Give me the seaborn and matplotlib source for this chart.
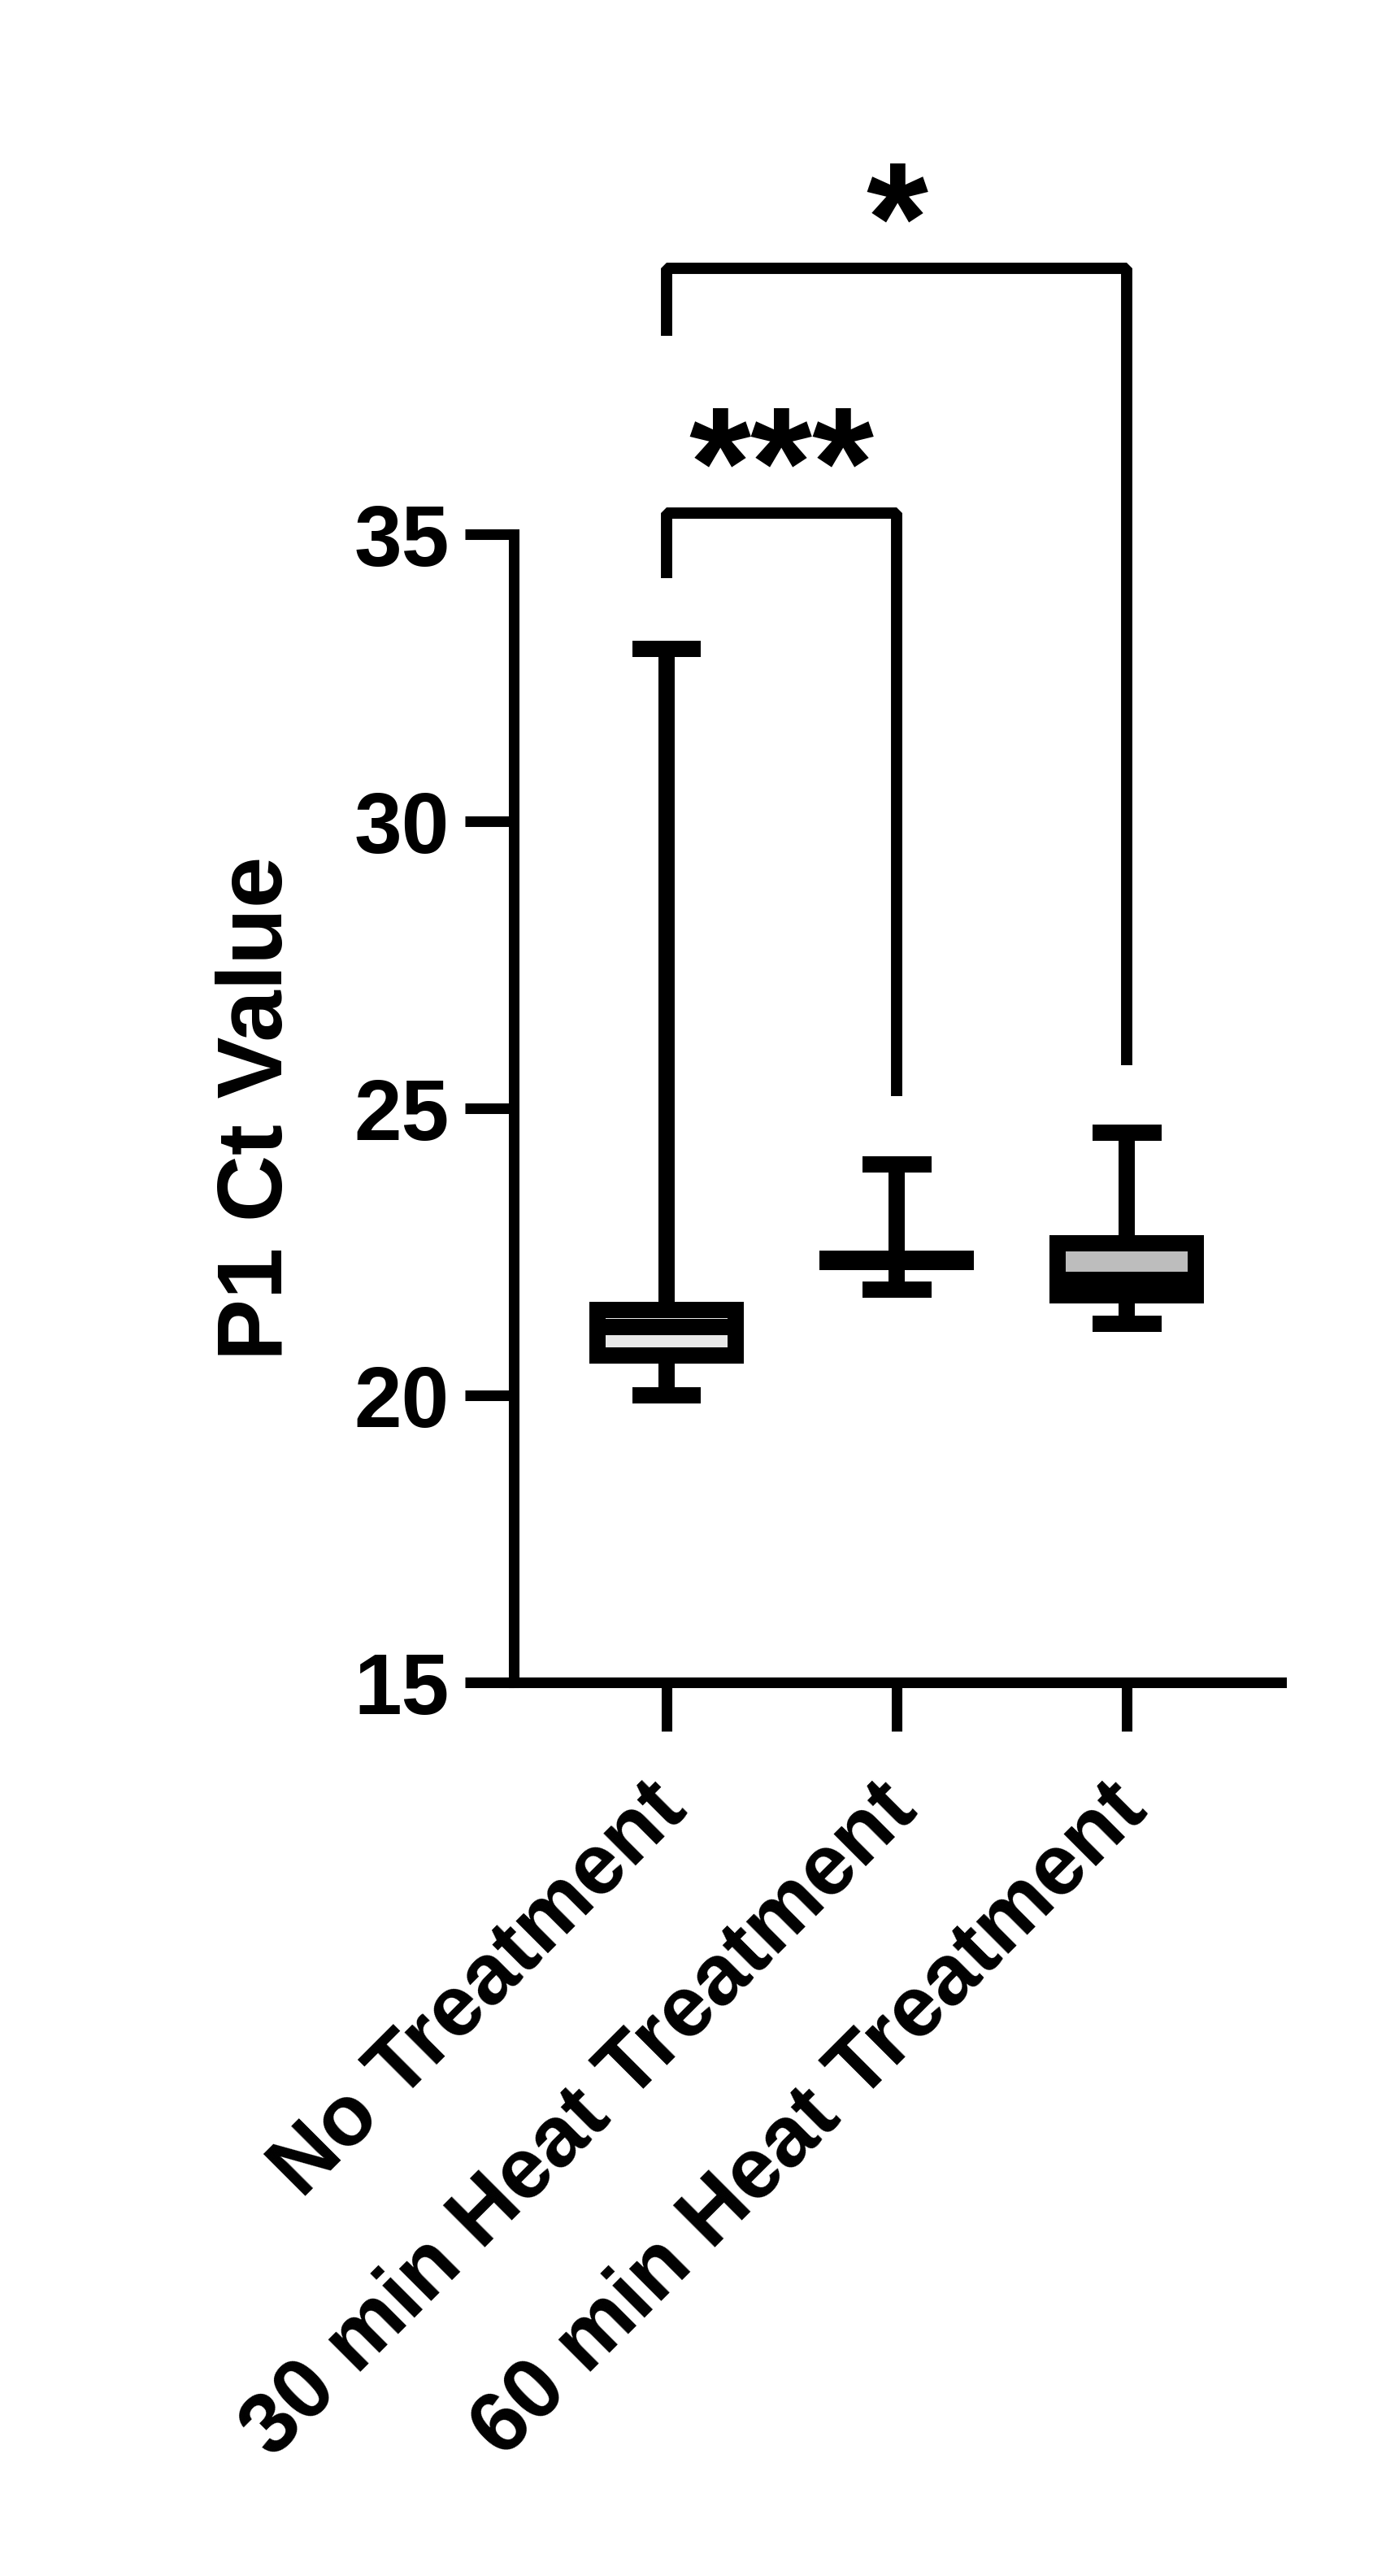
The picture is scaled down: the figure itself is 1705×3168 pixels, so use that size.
import numpy as np
import pandas as pd
import matplotlib
matplotlib.use("Agg")
import matplotlib.pyplot as plt
import matplotlib.transforms as mtransforms
from matplotlib.textpath import TextPath
from matplotlib.font_manager import FontProperties
import seaborn as sns

# ---- data ----
categories = ["No Treatment", "30 min Heat Treatment", "60 min Heat Treatment"]
min_vals = [20.00, 21.84, 21.25]
q1_vals = [20.70, 22.32, 21.74]
median_vals = [21.19, 22.35, 22.01]
q3_vals = [21.49, 22.38, 22.65]
max_vals = [33.00, 24.03, 24.58]
fill_colors = ["#e8e8e8", "#ffffff", "#bdbdbd"]
y_ticks = [15, 20, 25, 30, 35]
y_label = "P1 Ct Value"

# significance annotations
comp_pairs = [(0, 1), (0, 2)]
comp_labels = ["***", "*"]
bracket_tops = [35.37, 39.63]
bracket_left_ends = [34.23, 38.45]
bracket_right_ends = [25.22, 25.75]
star_centers = [36.70, 40.96]

# five-number summaries -> long table (whiskers at min/max)
rows = []
for cat, a, b, c, d, e in zip(categories, min_vals, q1_vals, median_vals, q3_vals, max_vals):
    for v in (a, b, c, d, e):
        rows.append({"group": cat, "value": v})
df = pd.DataFrame(rows)

sns.set_theme(style="ticks")
plt.rcParams["font.family"] = ["Liberation Sans", "DejaVu Sans"]
plt.rcParams["font.weight"] = "bold"
plt.rcParams["text.color"] = "black"
plt.rcParams["axes.labelcolor"] = "black"

DPI = 200
fig = plt.figure(figsize=(1705 / DPI, 3168 / DPI), dpi=DPI)
ax = fig.add_axes([0.3707, 0.3469, 0.5536, 0.4457])

LW = 7.2
sns.boxplot(
    data=df, x="group", y="value", hue="group", order=categories,
    hue_order=categories, palette=dict(zip(categories, fill_colors)),
    saturation=1, width=0.6, whis=(0, 100), linewidth=LW, linecolor="black",
    showfliers=False, legend=False, ax=ax,
    medianprops=dict(color="black", linewidth=LW, solid_capstyle="butt"),
    capprops=dict(color="black", linewidth=LW, solid_capstyle="butt"),
    whiskerprops=dict(color="black", linewidth=LW, solid_capstyle="butt"),
    boxprops=dict(edgecolor="black", linewidth=LW, joinstyle="miter"),
)

ax.set_ylim(15, 35)
ax.set_xlim(-0.664, 2.67)
ax.set_yticks(y_ticks)
ax.set_yticklabels([str(t) for t in y_ticks])
for s in ("top", "right"):
    ax.spines[s].set_visible(False)
for s in ("left", "bottom"):
    ax.spines[s].set_linewidth(4.7)
    ax.spines[s].set_color("black")

ax.tick_params(axis="both", length=21.6, width=4.7, color="black", labelsize=38,
               labelcolor="black")
ax.tick_params(axis="y", pad=7)
ax.tick_params(axis="x", pad=29)
ax.set_xlabel("")
ax.set_ylabel(y_label, fontsize=41, fontweight="bold", labelpad=23, color="black")

xoff = mtransforms.ScaledTranslation(3.0 / 72, 0, fig.dpi_scale_trans)
for lab in ax.get_xticklabels():
    lab.set_rotation(45)
    lab.set_ha("right")
    lab.set_va("center")
    lab.set_rotation_mode("anchor")
    lab.set_fontweight("bold")
    lab.set_transform(lab.get_transform() + xoff)
for lab in ax.get_yticklabels():
    lab.set_fontweight("bold")

# significance brackets
star_fp = FontProperties(family="Liberation Sans", weight="bold")
ext3 = TextPath((0, 0), "***", size=1, prop=star_fp).get_extents()
target_w_pt = 227 / DPI * 72          # width of "***" measured in the reference
star_fs = target_w_pt / ext3.width
star_fp.set_size(star_fs)
ext1 = TextPath((0, 0), "*", size=1, prop=FontProperties(family="Liberation Sans", weight="bold")).get_extents()
glyph_mid = (ext1.y0 + ext1.y1) / 2 * star_fs  # points above baseline

for (i0, i1), lab, top, le, re, sc in zip(comp_pairs, comp_labels, bracket_tops,
                                           bracket_left_ends, bracket_right_ends,
                                           star_centers):
    ax.plot([i0, i0, i1, i1], [le, top, top, re], color="black", lw=5,
            clip_on=False, solid_capstyle="butt", solid_joinstyle="bevel")
    tr = ax.transData + mtransforms.ScaledTranslation(0, -glyph_mid / 72, fig.dpi_scale_trans)
    ax.text((i0 + i1) / 2, sc, lab, ha="center", va="baseline",
            fontproperties=star_fp, color="black", clip_on=False, transform=tr)

fig.savefig("out.png", dpi=DPI, facecolor="white")
